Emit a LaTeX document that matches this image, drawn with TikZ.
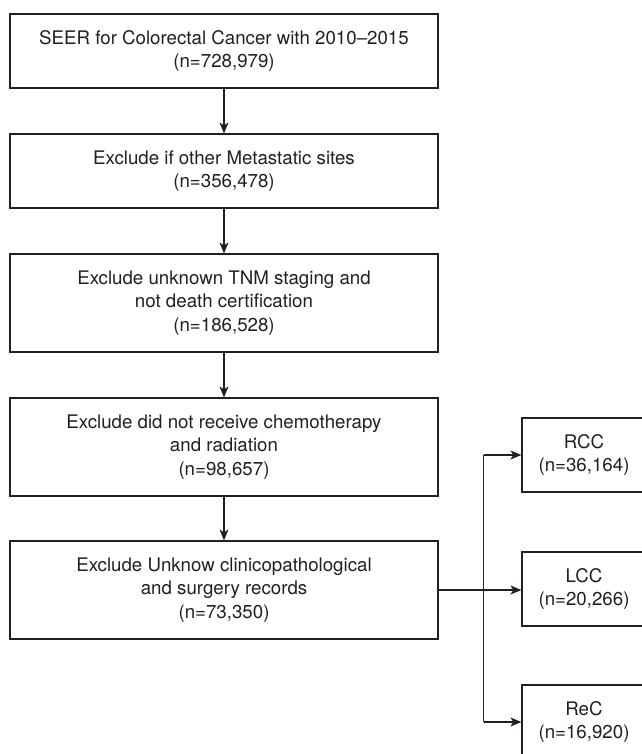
\documentclass[tikz,border=0pt]{standalone}
\usepackage{fontspec}
\setmainfont{TeX Gyre Heros}
\usetikzlibrary{arrows.meta}
\definecolor{ink}{HTML}{231F20}
\tikzset{
  box/.style={draw=ink, line width=1.2pt, text=ink, align=center, inner sep=0pt,
    font=\fontsize{18.7}{23.5}\selectfont},
  mainbox/.style={box, minimum width=428pt},
  sidebox/.style={box, minimum width=124pt, minimum height=74pt},
  conn/.style={draw=ink, line width=1.2pt},
  arr/.style={conn, -{Stealth[length=11pt,width=9pt,inset=3pt]}}
}
\begin{document}
\begin{tikzpicture}[x=1pt,y=-1pt]
\useasboundingbox (0,0) rectangle (641,754);
\node[mainbox, minimum height=74pt] (b1) at (224,51) {SEER for Colorectal Cancer with 2010–2015\\(n=728,979)};
\node[mainbox, minimum height=74pt] (b2) at (224,171) {Exclude if other Metastatic sites\\(n=356,478)};
\node[mainbox, minimum height=98pt] (b3) at (224,303) {Exclude unknown TNM staging and\\not death certification\\(n=186,528)};
\node[mainbox, minimum height=98pt] (b4) at (224,447) {Exclude did not receive chemotherapy\\and radiation\\(n=98,657)};
\node[mainbox, minimum height=98pt] (b5) at (224,590) {Exclude Unknow clinicopathological\\and surgery records\\(n=73,350)};
\node[sidebox] (rcc) at (584,455) {RCC\\(n=36,164)};
\node[sidebox] (lcc) at (584,589) {LCC\\(n=20,266)};
\node[sidebox] (rec) at (584,722) {ReC\\(n=16,920)};
\coordinate (br) at (483.5,0);
\draw[arr] (b1) -- (b2);
\draw[arr] (b2) -- (b3);
\draw[arr] (b3) -- (b4);
\draw[arr] (b4) -- (b5);
\draw[arr] (b5.east) -- (b5.east -| lcc.west);
\draw[conn] (br |- rcc) -- (br |- rec);
\draw[arr] (br |- rcc) -- (rcc.west);
\draw[arr] (br |- rec) -- (rec.west);
\end{tikzpicture}
\end{document}
